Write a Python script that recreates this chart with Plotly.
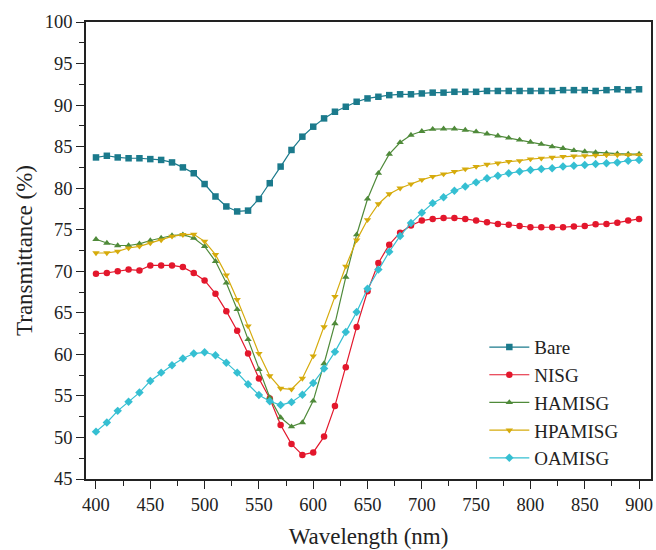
import plotly.graph_objects as go

wavelength = list(range(400, 901, 10))

bare = [83.7, 83.9, 83.7, 83.6, 83.6, 83.5, 83.4, 83.1, 82.5, 81.8,
        80.5, 79.0, 77.8, 77.2, 77.3, 78.7, 80.6, 82.6, 84.6, 86.2,
        87.4, 88.4, 89.2, 89.8, 90.4, 90.8, 91.0, 91.2, 91.3, 91.3,
        91.4, 91.5, 91.5, 91.6, 91.6, 91.6, 91.7, 91.7, 91.7, 91.7,
        91.7, 91.7, 91.7, 91.8, 91.8, 91.8, 91.7, 91.8, 91.9, 91.8, 91.9]

nisg = [69.7, 69.8, 70.0, 70.2, 70.1, 70.7, 70.7, 70.7, 70.5, 69.8,
        68.9, 67.3, 65.2, 62.85, 60.1, 57.1, 54.7, 51.5, 49.2, 47.9,
        48.2, 50.1, 53.8, 58.45, 63.3, 67.6, 71.0, 73.2, 74.65, 75.5,
        76.1, 76.3, 76.4, 76.4, 76.3, 76.1, 75.9, 75.7, 75.6, 75.45,
        75.3, 75.3, 75.3, 75.3, 75.4, 75.45, 75.65, 75.7, 75.85, 76.1, 76.3]

hamisg = [73.85, 73.4, 73.1, 73.1, 73.3, 73.7, 74.0, 74.3, 74.4, 74.0,
          73.0, 71.2, 68.6, 65.4, 61.8, 58.2, 54.8, 52.4, 51.3, 51.8,
          54.4, 58.9, 63.7, 69.3, 74.4, 78.7, 81.8, 84.1, 85.5, 86.4,
          86.85, 87.1, 87.15, 87.15, 87.0, 86.8, 86.55, 86.3, 86.05, 85.8,
          85.55, 85.3, 85.0, 84.8, 84.55, 84.4, 84.3, 84.2, 84.15, 84.1, 84.1]

hpamisg = [72.2, 72.2, 72.4, 72.8, 73.0, 73.4, 73.75, 74.2, 74.4, 74.45,
           73.6, 72.0, 69.55, 66.6, 63.4, 60.1, 57.4, 55.9, 55.8, 57.1,
           59.8, 63.3, 66.95, 70.6, 73.75, 76.2, 78.1, 79.3, 80.0, 80.5,
           81.0, 81.4, 81.7, 82.0, 82.3, 82.6, 82.85, 83.0, 83.2, 83.3,
           83.5, 83.6, 83.7, 83.8, 83.85, 83.9, 83.95, 84.0, 84.0, 84.0, 84.0]

oamisg = [50.7, 51.8, 53.2, 54.3, 55.4, 56.8, 57.8, 58.7, 59.5, 60.1,
          60.25, 59.9, 59.0, 57.8, 56.4, 55.1, 54.35, 53.9, 54.25, 55.15,
          56.55, 58.3, 60.3, 62.7, 65.1, 67.9, 70.2, 72.35, 74.25, 75.8,
          77.05, 78.2, 78.9, 79.7, 80.2, 80.7, 81.2, 81.5, 81.8, 82.0,
          82.2, 82.3, 82.4, 82.6, 82.7, 82.8, 82.9, 83.0, 83.1, 83.3, 83.4]

series_names = ["Bare", "NISG", "HAMISG", "HPAMISG", "OAMISG"]
series_values = [bare, nisg, hamisg, hpamisg, oamisg]
colors = ["#1b7a8c", "#e3172c", "#4f8a3a", "#d6ab0c", "#35bfd2"]
symbols = ["square", "circle", "triangle-up", "triangle-down", "diamond"]

fig = go.Figure()
for name, vals, c, s in zip(series_names, series_values, colors, symbols):
    fig.add_trace(go.Scatter(
        x=wavelength, y=vals, name=name, mode="lines+markers",
        line=dict(color=c, width=1.2),
        marker=dict(symbol=s, size=6.5, color=c),
    ))

font_family = "Liberation Serif, Times New Roman, serif"
fig.update_layout(
    width=656, height=550,
    margin=dict(l=86, r=3, t=22, b=71),
    paper_bgcolor="white", plot_bgcolor="white",
    font=dict(family=font_family, size=18, color="#222"),
    showlegend=True,
    legend=dict(x=0.705, y=0.33, xanchor="left", yanchor="top",
                font=dict(family=font_family, size=19, color="#222"),
                bgcolor="rgba(0,0,0,0)", tracegroupgap=0, itemwidth=40),
)
fig.update_xaxes(
    range=[390.8, 911], tickmode="array", tickvals=list(range(400, 901, 50)),
    ticks="outside", ticklen=8, tickwidth=1.3, tickcolor="#222",
    minor=dict(dtick=25, tick0=400, ticks="outside", ticklen=5, tickwidth=1.3, tickcolor="#222"),
    showline=True, linecolor="#222", linewidth=1.5, mirror=True,
    showgrid=False, zeroline=False,
    tickfont=dict(size=18.5, family=font_family),
    title=dict(text="Wavelength (nm)", font=dict(size=23, family=font_family), standoff=14),
)
fig.update_yaxes(
    range=[45, 100], tickmode="array", tickvals=list(range(45, 101, 5)),
    ticks="outside", ticklen=8, tickwidth=1.3, tickcolor="#222",
    minor=dict(dtick=2.5, tick0=45, ticks="outside", ticklen=5, tickwidth=1.3, tickcolor="#222"),
    showline=True, linecolor="#222", linewidth=1.5, mirror=True,
    showgrid=False, zeroline=False,
    tickfont=dict(size=18.5, family=font_family),
    title=dict(text="Transmittance (%)", font=dict(size=23, family=font_family), standoff=6),
)

fig.write_html("out.html")
